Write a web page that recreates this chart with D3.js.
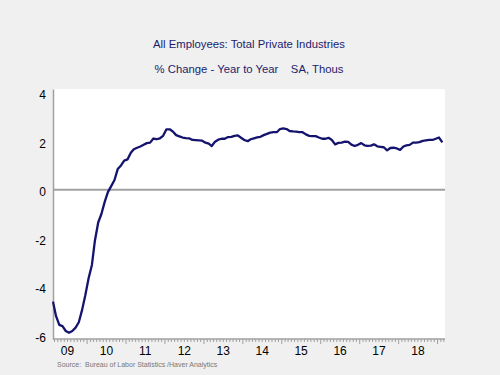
<!DOCTYPE html>
<html><head><meta charset="utf-8">
<script src="https://cdn.jsdelivr.net/npm/d3@7"></script>
<style>
html,body{margin:0;padding:0;background:#f0f0f0;}
svg{display:block;font-family:"Liberation Sans",Arial,sans-serif;}
</style></head>
<body>
<svg id="c" width="500" height="375"></svg>
<script>
const startMonth = [2009, 1]; // Feb 2009 (month index 0-based)
const values = [
-4.61,-5.2,-5.57,-5.62,-5.82,-5.89,-5.82,-5.68,-5.46,-4.95,-4.35,-3.65,
-3.1,-2.1,-1.35,-1.0,-0.5,-0.1,0.15,0.4,0.85,1.0,1.2,1.25,
1.52,1.67,1.73,1.78,1.85,1.92,1.94,2.11,2.08,2.12,2.22,2.49,
2.49,2.40,2.25,2.2,2.15,2.13,2.12,2.05,2.04,2.03,2.02,1.94,
1.9,1.8,1.98,2.06,2.1,2.1,2.17,2.18,2.22,2.24,2.14,2.05,
2.0,2.08,2.12,2.16,2.18,2.25,2.3,2.35,2.37,2.37,2.5,2.53,
2.5,2.42,2.4,2.39,2.37,2.37,2.28,2.22,2.21,2.21,2.15,2.1,
2.1,2.14,2.05,1.87,1.93,1.94,1.98,1.97,1.86,1.80,1.85,1.92,
1.83,1.81,1.82,1.87,1.79,1.77,1.75,1.62,1.72,1.73,1.70,1.64,
1.78,1.83,1.85,1.94,1.94,1.96,2.01,2.03,2.05,2.05,2.1,2.15,
1.95
];
const yTicks = [-6,-4,-2,0,2,4];
const yearLabels = ["09","10","11","12","13","14","15","16","17","18"];
const title1 = "All Employees: Total Private Industries";
const title2 = "% Change - Year to Year    SA, Thous";
const source = "Source:  Bureau of Labor Statistics /Haver Analytics";

const data = values.map((v,i)=>({d:new Date(startMonth[0], startMonth[1]+i, 15), v}));

const svg = d3.select("#c");
const L=53, R=445, T=89, B=339;
const x = d3.scaleTime().domain([new Date(2009,1,15), new Date(2019,2,12)]).range([L,R]);
const y = d3.scaleLinear().domain([-6.15,4.15]).range([B,T]);

svg.append("rect").attr("x",L).attr("y",T).attr("width",R-L).attr("height",B-T).attr("fill","#fff");

// titles
const navy="#1c1c6c";
svg.append("text").attr("x",249).attr("y",48).attr("text-anchor","middle").attr("font-size",11.3).attr("fill",navy).text(title1);
svg.append("text").attr("x",249).attr("y",73).attr("text-anchor","middle").attr("font-size",11.3).attr("fill",navy).attr("xml:space","preserve").style("white-space","pre").text(title2);

// zero line
svg.append("line").attr("x1",L).attr("x2",R).attr("y1",y(0)).attr("y2",y(0)).attr("stroke","#a0a0a0").attr("stroke-width",2);

// y axis
const ya = svg.append("g").attr("transform",`translate(${L},0)`)
  .call(d3.axisLeft(y).tickValues(yTicks).tickSize(0).tickPadding(7).tickFormat(d=>String(d)));
ya.select(".domain").attr("stroke","#a0a0a0").attr("stroke-width",1.5);
ya.selectAll("text").attr("font-size",12).attr("fill","#000").attr("font-family","Liberation Sans, Arial, sans-serif").attr("dy","0.5em");

// x axis: monthly minor ticks, yearly major ticks
const xa = svg.append("g").attr("transform",`translate(0,${B})`);
xa.append("line").attr("x1",L).attr("x2",R).attr("y1",0).attr("y2",0).attr("stroke","#a0a0a0").attr("stroke-width",1.5);
const months = d3.timeMonth.range(new Date(2009,2,1), new Date(2019,3,1)).filter(d=>x(d)<=R);
xa.selectAll("line.m").data(months).join("line").attr("class","m")
  .attr("x1",d=>x(d)).attr("x2",d=>x(d)).attr("y1",0).attr("y2",d=>d.getMonth()===0?5:3)
  .attr("stroke","#a0a0a0").attr("stroke-width",1);
xa.selectAll("text").data(yearLabels).join("text")
  .attr("x",(d,i)=>x(new Date(2009+i,6,1))).attr("y",16)
  .attr("text-anchor","middle").attr("font-size",12).attr("fill","#000").text(d=>d);

// line
svg.append("path").datum(data)
  .attr("fill","none").attr("stroke","#14146e").attr("stroke-width",2.3).attr("stroke-linejoin","round")
  .attr("d", d3.line().x(d=>x(d.d)).y(d=>y(d.v)));

svg.append("text").attr("x",57).attr("y",366.5).attr("font-size",7).attr("fill","#777").attr("xml:space","preserve").text(source);
</script>
</body></html>
